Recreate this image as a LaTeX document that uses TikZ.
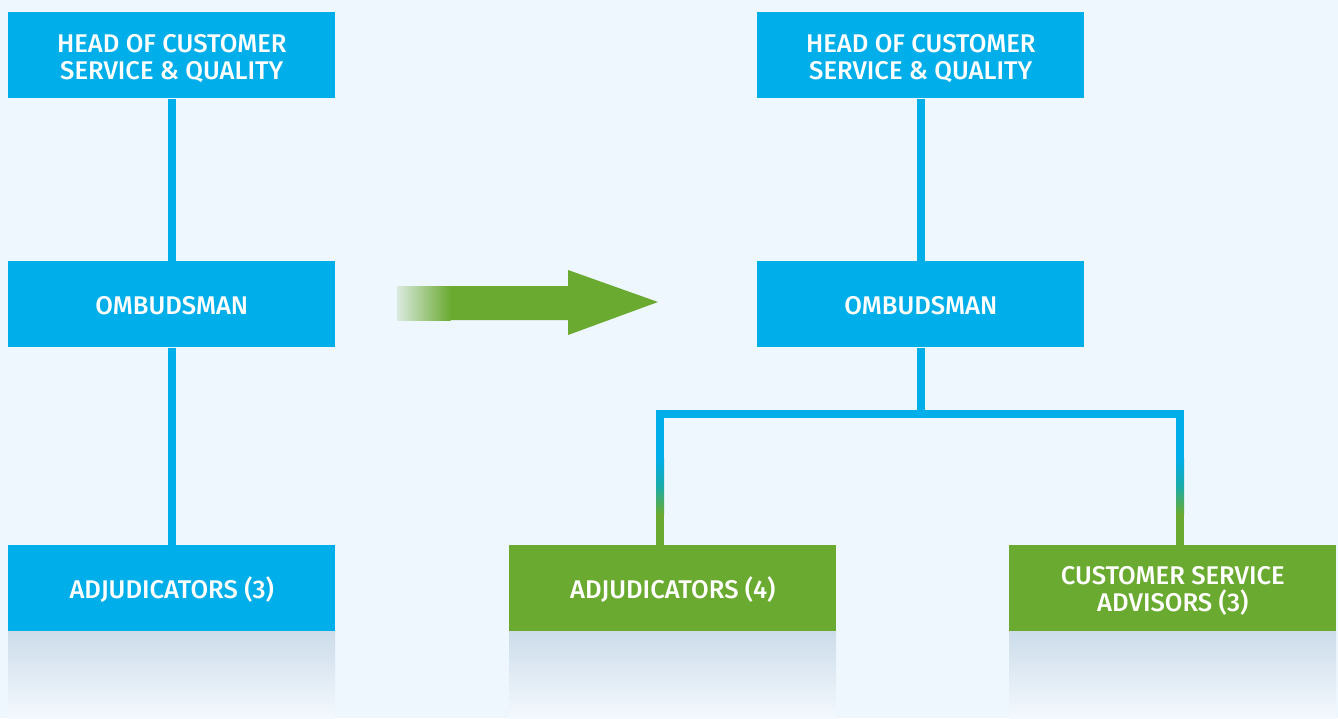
\documentclass[tikz,border=0pt]{standalone}
\usepackage{fontspec}
\setmainfont{Fira Sans}[BoldFont={Fira Sans Medium}]
\definecolor{bg}{HTML}{EEF6FE}
\definecolor{cblue}{HTML}{00AEEA}
\definecolor{cgreen}{HTML}{6AAA30}
\definecolor{shadtop}{HTML}{CCDCE9}
\definecolor{teal}{HTML}{1AACA8}
\begin{document}
\begin{tikzpicture}[x=0.75pt,y=-0.75pt,
  box/.style={rectangle,anchor=north west,minimum width=327*0.75pt,minimum height=86*0.75pt,
    inner sep=0pt},
  bluebox/.style={box,fill=cblue},
  greenbox/.style={box,fill=cgreen},
  txt/.style={inner sep=0pt,text=white,align=center,font=\fontsize{19.2}{20.3}\selectfont\bfseries},
  conn/.style={draw=cblue,line width=6pt}]
\fill[bg] (0,0) rectangle (1338,718);
\useasboundingbox (0,0) rectangle (1338,718);
% shadows
\foreach \x in {8,509,1009}{
  \shade[top color=shadtop,bottom color=bg!70!white] (\x,630) rectangle ++(327,88);
}
% left column
\node[bluebox] (lh) at (8,12) {};
\node[bluebox] (lo) at (8,261) {};
\node[bluebox] (la) at (8,545) {};
% right column
\node[bluebox] (rh) at (757,12) {};
\node[bluebox] (ro) at (757,261) {};
\coordinate (ja) at (660,414);
\coordinate (jc) at (1180,414);
% connectors
\draw[conn] (lh.south) -- (lo.north);
\draw[conn] (lo.south) -- (la.north);
\draw[conn] (rh.south) -- (ro.north);
\draw[conn] (ro.south) -- (ro.south |- ja);
\draw[conn,line cap=rect] (660,545) -- (ja) -- (jc) -- (1180,545);
% gradient overlays on the two lower verticals
\foreach \xx in {660,1180}{
  \shade[top color=cblue,bottom color=cgreen,middle color=teal] (\xx-4,458) rectangle (\xx+4,514);
  \fill[cgreen] (\xx-4,513.5) rectangle (\xx+4,546);
}
% green boxes
\node[greenbox] (ra) at (509,545) {};
\node[greenbox] (rc) at (1009,545) {};
% texts
\node[txt] (tlh) at ([yshift=-3*0.75pt]lh.center) {HEAD OF CUSTOMER\\SERVICE \& QUALITY};
\node[txt] (tlo) at ([yshift=-1.5*0.75pt]lo.center) {OMBUDSMAN};
\node[txt] (tla) at ([yshift=-1.5*0.75pt]la.center) {ADJUDICATORS (3)};
\node[txt] (trh) at ([yshift=-3*0.75pt]rh.center) {HEAD OF CUSTOMER\\SERVICE \& QUALITY};
\node[txt] (tro) at ([yshift=-1.5*0.75pt]ro.center) {OMBUDSMAN};
\node[txt] (tra) at ([yshift=-1.5*0.75pt]ra.center) {ADJUDICATORS (4)};
\node[txt] (trc) at ([yshift=-3*0.75pt]rc.center) {CUSTOMER SERVICE\\ADVISORS (3)};
% big arrow
\fill[cgreen] (450,286) -- (568,286) -- (568,270) -- (658,302) -- (568,335) -- (568,320) -- (450,320) -- cycle;
\shade[left color=bg!85!cgreen,right color=cgreen] (397,286) rectangle (450.5,320);
\end{tikzpicture}
\end{document}
